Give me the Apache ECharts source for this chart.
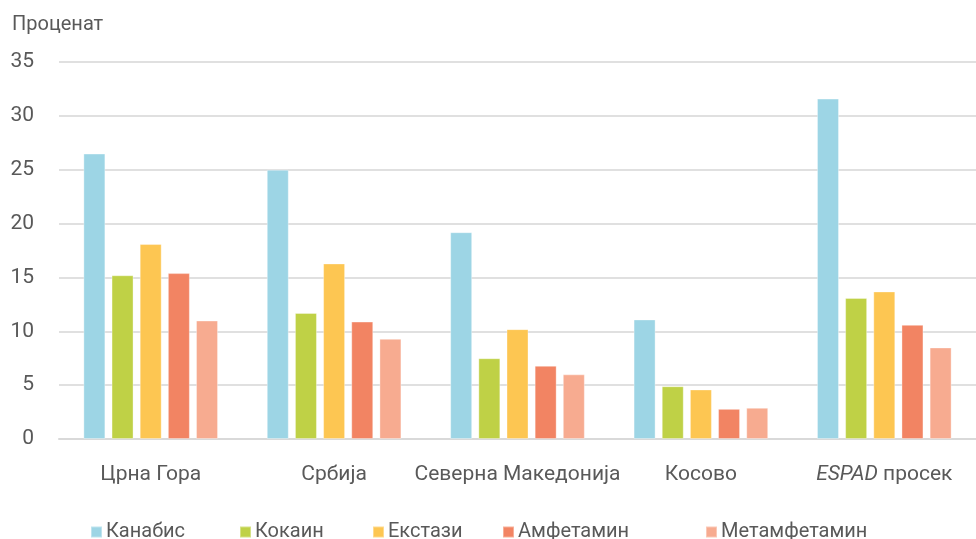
<!DOCTYPE html>
<html><head><meta charset="utf-8">
<script src="https://cdn.jsdelivr.net/npm/echarts@6/dist/echarts.min.js"></script>
<style>html,body{margin:0;padding:0;background:#fff}#c{width:976px;height:539px}</style>
</head><body><div id="c"></div>
<script>
const categories = ['Црна Гора', 'Србија', 'Северна Македонија', 'Косово', 'ESPAD просек'];
const seriesNames = ['Канабис', 'Кокаин', 'Екстази', 'Амфетамин', 'Метамфетамин'];
const kanabis = [26.5, 25.0, 19.2, 11.1, 31.6];
const kokain = [15.2, 11.7, 7.5, 4.9, 13.1];
const ekstazi = [18.1, 16.3, 10.2, 4.6, 13.7];
const amfetamin = [15.4, 10.9, 6.8, 2.8, 10.6];
const metamfetamin = [11.0, 9.3, 6.0, 2.9, 8.5];
const yTicks = [0, 5, 10, 15, 20, 25, 30, 35];

const colors = ['#9dd5e5', '#bfd146', '#fdc652', '#f28463', '#f7ab90'];
const values = [kanabis, kokain, ekstazi, amfetamin, metamfetamin];
const legendLefts = [85, 234, 367, 497, 700];
const font = 'Roboto, "Noto Sans", sans-serif';
const txt = '#595959';

const chart = echarts.init(document.getElementById('c'), null, {renderer: 'canvas'});
chart.setOption({
  animation: false,
  color: colors,
  textStyle: {fontFamily: font},
  title: {text: 'Проценат', left: 7, top: 10, textStyle: {fontFamily: font, fontSize: 20, fontWeight: 'normal', color: txt}},
  legend: seriesNames.map((n, i) => ({
    data: [n], left: legendLefts[i], top: 517, itemWidth: 11, itemHeight: 11, itemGap: 0,
    icon: 'rect', textStyle: {fontFamily: font, fontSize: 20, color: txt, padding: [0, 0, 0, -1]}
  })),
  grid: {left: 59, width: 924, top: 62, bottom: 100},
  xAxis: {
    type: 'category', data: categories,
    axisLine: {lineStyle: {color: '#d9d9d9', width: 2}},
    axisTick: {show: false},
    axisLabel: {
      interval: 0, margin: 25, fontSize: 21, color: txt, fontFamily: font,
      formatter: v => v.startsWith('ESPAD') ? '{i|ESPAD}' + v.slice(5) : v,
      rich: {i: {fontStyle: 'italic', fontSize: 21, color: txt, fontFamily: font}}
    }
  },
  yAxis: {
    type: 'value', min: yTicks[0], max: yTicks[yTicks.length - 1], interval: 5,
    axisLine: {show: false}, axisTick: {show: false},
    splitLine: {lineStyle: {color: '#e0e0e0', width: 2}},
    axisLabel: {margin: 25, fontSize: 21, color: txt, fontFamily: font}
  },
  series: seriesNames.map((n, i) => ({
    name: n, type: 'bar', data: values[i], barWidth: 22, barGap: '28%',
    itemStyle: {color: colors[i], borderColor: 'rgba(255,255,255,0.35)', borderWidth: 1}
  }))
});
</script></body></html>
